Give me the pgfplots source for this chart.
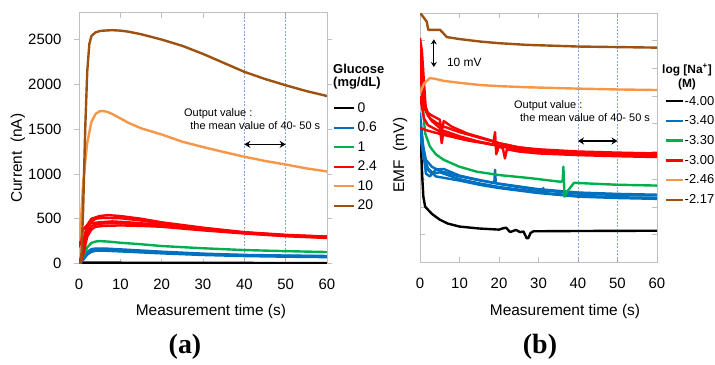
\documentclass[border=0pt]{standalone}
\usepackage{pgfplots}
\pgfplotsset{compat=1.18}
\usepackage{fontspec}
\setmainfont{Liberation Sans}
\newfontfamily\timesfont{Liberation Serif}
\usetikzlibrary{arrows.meta}
\definecolor{cblue}{HTML}{0070C0}
\definecolor{cgreen}{HTML}{00B050}
\definecolor{cred}{HTML}{FF0000}
\definecolor{corange}{HTML}{F79646}
\definecolor{cbrown}{RGB}{158,82,18}
\definecolor{cgrid}{HTML}{7EA6D8}
\definecolor{caxis}{HTML}{BFBFBF}
\pgfplotsset{
  cv/.style={line width=2.4bp, line join=round},
  panel/.style={
    scale only axis,
    axis line style={caxis, line width=0.8bp},
    xmin=0, xmax=60, xtick={0,10,...,60},
    tick style={caxis, line width=0.8bp},
    /pgf/number format/assume math mode=true,
    /pgf/number format/1000 sep={},
    tick label style={font=\fontsize{15}{17}\selectfont},
    label style={font=\fontsize{15.5}{18}\selectfont},
    xticklabel style={yshift=-12bp},
    legend cell align=left,
  }
}
\begin{document}
\begin{tikzpicture}
\path[use as bounding box] (0,0) rectangle (715bp,-365bp);
% ---------------- panel (a) ----------------
\begin{axis}[panel,
  at={(79bp,-263.5bp)}, anchor=south west,
  width=248bp, height=250.8bp,
  ymin=0, ymax=2800, ytick={0,500,...,2500},
  ytick align=outside, xtick align=inside,
  major tick length=5bp,
  yticklabel style={xshift=-9bp},
  xlabel={Measurement time (s)},
  ylabel={Current\ \ (nA)},
  xlabel style={at={(axis description cs:0.532,-0.193)}, anchor=center},
  ylabel style={at={(axis description cs:-0.246,0.42)}, anchor=center},
  legend image code/.code={\draw[#1] (0bp,0bp) -- (20bp,0bp);},
  legend style={at={(axis description cs:1.024,0.650)}, anchor=north west, draw=none, fill=none,
    font=\fontsize{14}{16}\selectfont, row sep=4.3bp, inner sep=0pt},
]
\addlegendimage{black,line width=2.4bp}\addlegendentry{0}
\addlegendimage{cblue,line width=2.4bp}\addlegendentry{0.6}
\addlegendimage{cgreen,line width=2.4bp}\addlegendentry{1}
\addlegendimage{cred,line width=2.4bp}\addlegendentry{2.4}
\addlegendimage{corange,line width=2.4bp}\addlegendentry{10}
\addlegendimage{cbrown,line width=2.4bp}\addlegendentry{20}
\draw[cgrid, dash pattern=on 2bp off 1.5bp, line width=0.7bp] (axis cs:40,0) -- (axis cs:40,2800);
\draw[cgrid, dash pattern=on 2bp off 1.5bp, line width=0.7bp] (axis cs:50,0) -- (axis cs:50,2800);
% black
\addplot[cv, black, forget plot] coordinates {(0,0) (1,10) (10,9) (30,7) (60,5)};
% blue
\addplot[cv, cblue, forget plot] coordinates {(0,0) (1,50) (2,120) (3,150) (4,160) (6,160) (10,150) (20,125) (30,105) (40,92) (50,85) (60,80)};
\addplot[cv, cblue, forget plot] coordinates {(0,0) (1,40) (2,100) (3,130) (4,142) (6,143) (10,135) (20,113) (30,95) (40,83) (50,76) (60,71)};
\addplot[cv, cblue, forget plot] coordinates {(0,0) (1.2,60) (2,130) (3,160) (4,168) (6,168) (10,158) (20,132) (30,110) (40,96) (50,89) (60,84)};
% green
\addplot[cv, cgreen, forget plot] coordinates {(0,0) (1,80) (2,180) (3,230) (4,245) (5,250) (7,245) (10,232) (15,215) (20,195) (30,170) (40,150) (50,138) (60,128)};
% red
\addplot[cv, cred, forget plot] coordinates {(0,0) (0.5,50) (1,250) (2,430) (3,500) (5,530) (7,540) (10,530) (15,500) (20,460) (30,400) (40,350) (50,320) (60,300)};
\addplot[cv, cred, forget plot] coordinates {(0,0) (0.7,50) (1.5,300) (2.5,450) (4,500) (6,510) (10,505) (15,480) (20,445) (30,390) (40,345) (50,315) (60,295)};
\addplot[cv, cred, forget plot] coordinates {(0,180) (0.5,280) (1,380) (2,430) (3,450) (5,460) (8,470) (12,460) (20,430) (30,380) (40,340) (50,310) (60,290)};
\addplot[cv, cred, forget plot] coordinates {(0,0) (1,100) (2,300) (3,380) (4,410) (6,420) (10,425) (15,420) (20,410) (30,370) (40,335) (50,305) (60,285)};
\addplot[cv, cred, forget plot] coordinates {(0,0) (1,150) (2,350) (3,420) (5,445) (8,450) (12,445) (20,425) (30,380) (40,345) (50,315) (60,300)};
% orange
\addplot[cv, corange, forget plot] coordinates {(0,250) (0.5,500) (1,900) (2,1350) (3,1580) (4,1670) (5,1700) (6,1702) (7,1690) (8,1670) (10,1620) (12,1570) (15,1510) (20,1440) (25,1360) (30,1300) (35,1245) (40,1192) (45,1145) (50,1105) (55,1062) (60,1028)};
% brown
\addplot[cv, cbrown, forget plot] coordinates {(0,0) (0.5,0) (1,600) (1.5,1500) (2,2150) (2.5,2450) (3,2540) (4,2580) (5,2595) (6,2600) (8,2605) (10,2600) (12,2588) (15,2560) (20,2500) (25,2430) (30,2340) (35,2240) (40,2140) (45,2060) (50,1990) (55,1925) (60,1870)};
\draw[{Stealth[length=6bp,width=7bp]}-{Stealth[length=6bp,width=7bp]}, line width=1.4bp] (axis cs:40,1330) -- (axis cs:50,1330);
\node[anchor=west, font=\fontsize{11}{13}\selectfont, inner sep=0pt] at (axis cs:25.4,1668) {Output value :};
\node[anchor=west, font=\fontsize{11}{13}\selectfont, inner sep=0pt] at (axis cs:26.9,1543) {the mean value of 40- 50 s};
\end{axis}
\node[align=left, font=\bfseries\fontsize{13}{14}\selectfont, inner sep=0pt, anchor=west] at (333bp,-69bp) {Glucose};
\node[align=left, font=\bfseries\fontsize{13}{14}\selectfont, inner sep=0pt, anchor=west] at (333bp,-83bp) {(mg/dL)};
% ---------------- panel (b) ----------------
\begin{axis}[panel,
  at={(420bp,-262.3bp)}, anchor=south west,
  width=237bp, height=249.3bp,
  ymin=-10, ymax=80, ytick={-10,0,...,80}, yticklabels={},
  tick align=inside, major tick length=5bp,
  xlabel={Measurement time (s)},
  ylabel={EMF\ \ (mV)},
  xlabel style={at={(axis description cs:0.612,-0.199)}, anchor=center},
  ylabel style={at={(axis description cs:-0.084,0.43)}, anchor=center},
  legend image code/.code={\draw[#1] (0bp,0bp) -- (17bp,0bp);},
  legend style={at={(axis description cs:1.030,0.676)}, anchor=north west, draw=none, fill=none,
    font=\fontsize{13}{15}\selectfont, row sep=5.2bp, inner sep=0pt, nodes={inner xsep=1bp}},
]
\addlegendimage{black,line width=2.4bp}\addlegendentry{-4.00}
\addlegendimage{cblue,line width=2.4bp}\addlegendentry{-3.40}
\addlegendimage{cgreen,line width=2.4bp}\addlegendentry{-3.30}
\addlegendimage{cred,line width=2.4bp}\addlegendentry{-3.00}
\addlegendimage{corange,line width=2.4bp}\addlegendentry{-2.46}
\addlegendimage{cbrown,line width=2.4bp}\addlegendentry{-2.17}
\draw[cgrid, dash pattern=on 2bp off 1.5bp, line width=0.7bp] (axis cs:40,-10) -- (axis cs:40,80);
\draw[cgrid, dash pattern=on 2bp off 1.5bp, line width=0.7bp] (axis cs:50,-10) -- (axis cs:50,80);
% black
\addplot[cv, black, forget plot] coordinates {(0,37) (0.3,30) (0.6,20) (0.85,13.7) (1.3,10.1) (3,7.5) (5,5.4) (7,4) (10,2.9) (15,2.2) (20,1.8) (21.1,2.3) (21.8,2.5) (22.8,0.9) (24.3,1.7) (25.3,0.9) (26.2,1.1) (27,-1.3) (27.4,-1.3) (28,0.6) (28.7,1.2) (40,1.3) (60,1.4)};
% blue
\addplot[cv, cblue, forget plot] coordinates {(0,44) (0.5,36) (1,28) (1.5,22) (2.5,21) (4,23.5) (6,23.7) (8,22.5) (10,21.3) (14.4,19.9) (18.8,18.6) (19,23.4) (19.2,18.5) (20,18.3) (27.8,16.5) (30,16.1) (40,14.8) (50,14.3) (60,14.1)};
\addplot[cv, cblue, forget plot] coordinates {(0,40) (0.7,30) (1.5,24) (3,22) (5,22.5) (8,21) (10,20) (15,18.5) (20,17.2) (30,15.3) (31,15.2) (31.2,16.8) (31.4,15) (40,14) (50,13.5) (60,13.2)};
\addplot[cv, cblue, forget plot] coordinates {(0,36) (1,28) (2,24) (4,21) (6,20.5) (10,19.5) (15,18) (20,16.8) (30,15) (40,13.7) (50,13.2) (60,12.9)};
\addplot[cv, cblue, forget plot] coordinates {(0,42) (0.8,32) (1.5,27) (3,24.5) (5,23) (10,21) (15,19.6) (20,18.4) (30,16.4) (40,15.2) (50,14.7) (60,14.4)};
% green
\addplot[cv, cgreen, forget plot] coordinates {(0,66) (0.3,60) (0.6,48) (1.3,36.6) (2.5,31.8) (4,29) (6,27) (10,24.5) (14.4,22.7) (20,21.5) (27.8,20.4) (35.4,19.1) (36.1,19.2) (36.3,24.5) (36.6,13.7) (37.5,16) (39,18.7) (45,18.3) (50,18) (60,17.7)};
% red
\addplot[cv, cred, forget plot] coordinates {(0,71) (0.5,66) (1,55) (1.5,45) (2.5,42) (4,40.5) (6,39) (10,37) (15,35) (20,33) (25,31.5) (30,30.5) (40,29.5) (50,29) (60,28.8)};
\addplot[cv, cred, forget plot] coordinates {(0,60) (0.5,52) (1,46) (2,43) (3,41) (5,38.5) (5.5,33) (6,37.5) (10,35.5) (15,33.5) (18.5,32.5) (19,37) (19.3,29) (20,32) (25,30.5) (30,29.8) (40,29) (50,28.6) (60,28.3)};
\addplot[cv, cred, forget plot] coordinates {(0,50) (0.5,46) (1,42) (2,39.5) (4,38) (6,36.5) (10,35) (15,33.5) (20,32) (21,31) (21.5,27.5) (22,30.8) (25,30) (30,29.3) (40,28.7) (50,28.3) (60,28)};
\addplot[cv, cred, forget plot] coordinates {(0,38.5) (2,37.5) (6,36) (12,34) (18.6,32.4) (25,31) (30,30) (40,29.2) (50,28.8) (60,28.6)};
\addplot[cv, cred, forget plot] coordinates {(0,67) (0.6,55) (1.2,47) (2,44) (3,43) (5,41.5) (5.5,37) (6,41) (8,39) (12,36.5) (18,34) (20,33) (25,31.5) (30,30.8) (40,30) (50,29.6) (60,29.3)};
% orange
\addplot[cv, corange, forget plot] coordinates {(0,51) (1,54.5) (2.5,56.5) (4,56.2) (6,55.5) (10,54.8) (15.2,54) (20,53.6) (27,53.2) (40,52.7) (50,52.4) (60,52.2)};
% brown
\addplot[cv, cbrown, forget plot] coordinates {(0,80) (0.5,79.2) (1.7,76.9) (2.1,73.9) (5.1,73.9) (5.9,72.7) (6.8,71.3) (10,70.6) (15.2,69.7) (20,69.1) (27,68.5) (40,67.9) (50,67.7) (60,67.5)};
\draw[{Stealth[length=6bp,width=7bp]}-{Stealth[length=6bp,width=7bp]}, line width=1.4bp] (axis cs:40,33.8) -- (axis cs:50,33.8);
\draw[{Stealth[length=5bp,width=6bp]}-{Stealth[length=5bp,width=6bp]}, line width=1.3bp] (axis cs:3.5,70.5) -- (axis cs:3.5,60.5);
\node[anchor=west, font=\fontsize{12}{14}\selectfont, inner sep=0pt] at (axis cs:6.8,62.3) {10 mV};
\node[anchor=west, font=\fontsize{11}{13}\selectfont, inner sep=0pt] at (axis cs:23.8,46.5) {Output value :};
\node[anchor=west, font=\fontsize{11}{13}\selectfont, inner sep=0pt] at (axis cs:25.3,42.1) {the mean value of 40- 50 s};
\end{axis}
\node[font=\bfseries\fontsize{12}{13}\selectfont, inner sep=0pt] at (687bp,-70bp) {log [Na\textsuperscript{+}]};
\node[font=\bfseries\fontsize{12}{13}\selectfont, inner sep=0pt] at (687bp,-84bp) {(M)};
\node[font=\timesfont\bfseries\fontsize{28}{30}\selectfont] at (185bp,-347bp) {(a)};
\node[font=\timesfont\bfseries\fontsize{28}{30}\selectfont] at (540bp,-347bp) {(b)};
\end{tikzpicture}
\end{document}
